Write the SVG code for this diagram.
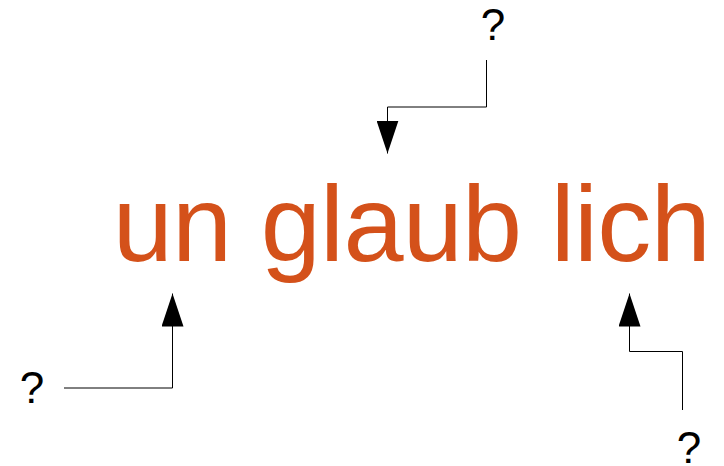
<svg xmlns="http://www.w3.org/2000/svg" width="724" height="466" viewBox="0 0 724 466">
<defs>
<style>
.q{font-family:"Liberation Sans",Arial,sans-serif;font-size:44px;fill:#000;text-anchor:middle}
.main{font-family:"Liberation Sans",Arial,sans-serif;font-size:108px;letter-spacing:-0.7px;fill:#d4511a}
.conn{fill:none;stroke:#000;stroke-width:1}
</style>
<marker id="arr" viewBox="0 0 33 22" refX="33" refY="11" markerWidth="33" markerHeight="22" markerUnits="userSpaceOnUse" orient="auto">
<path d="M0,0 L33,11 L0,22 Z" fill="#000"/>
</marker>
</defs>
<rect width="724" height="466" fill="#fff"/>
<g id="word"><text class="main" x="112.7" y="261">un glaub lich</text></g>
<g id="q-top"><text class="q" x="493" y="40">?</text></g>
<g id="q-left"><text class="q" x="32" y="403">?</text></g>
<g id="q-right"><text class="q" x="689" y="463">?</text></g>
<g id="connectors">
<polyline class="conn" points="486.5,60 486.5,107 387.5,107 387.5,153.5" marker-end="url(#arr)"/>
<polyline class="conn" points="64,388 172.5,388 172.5,293.5" marker-end="url(#arr)"/>
<polyline class="conn" points="682.5,410 682.5,351.5 629.5,351.5 629.5,293.5" marker-end="url(#arr)"/>
</g>
</svg>
